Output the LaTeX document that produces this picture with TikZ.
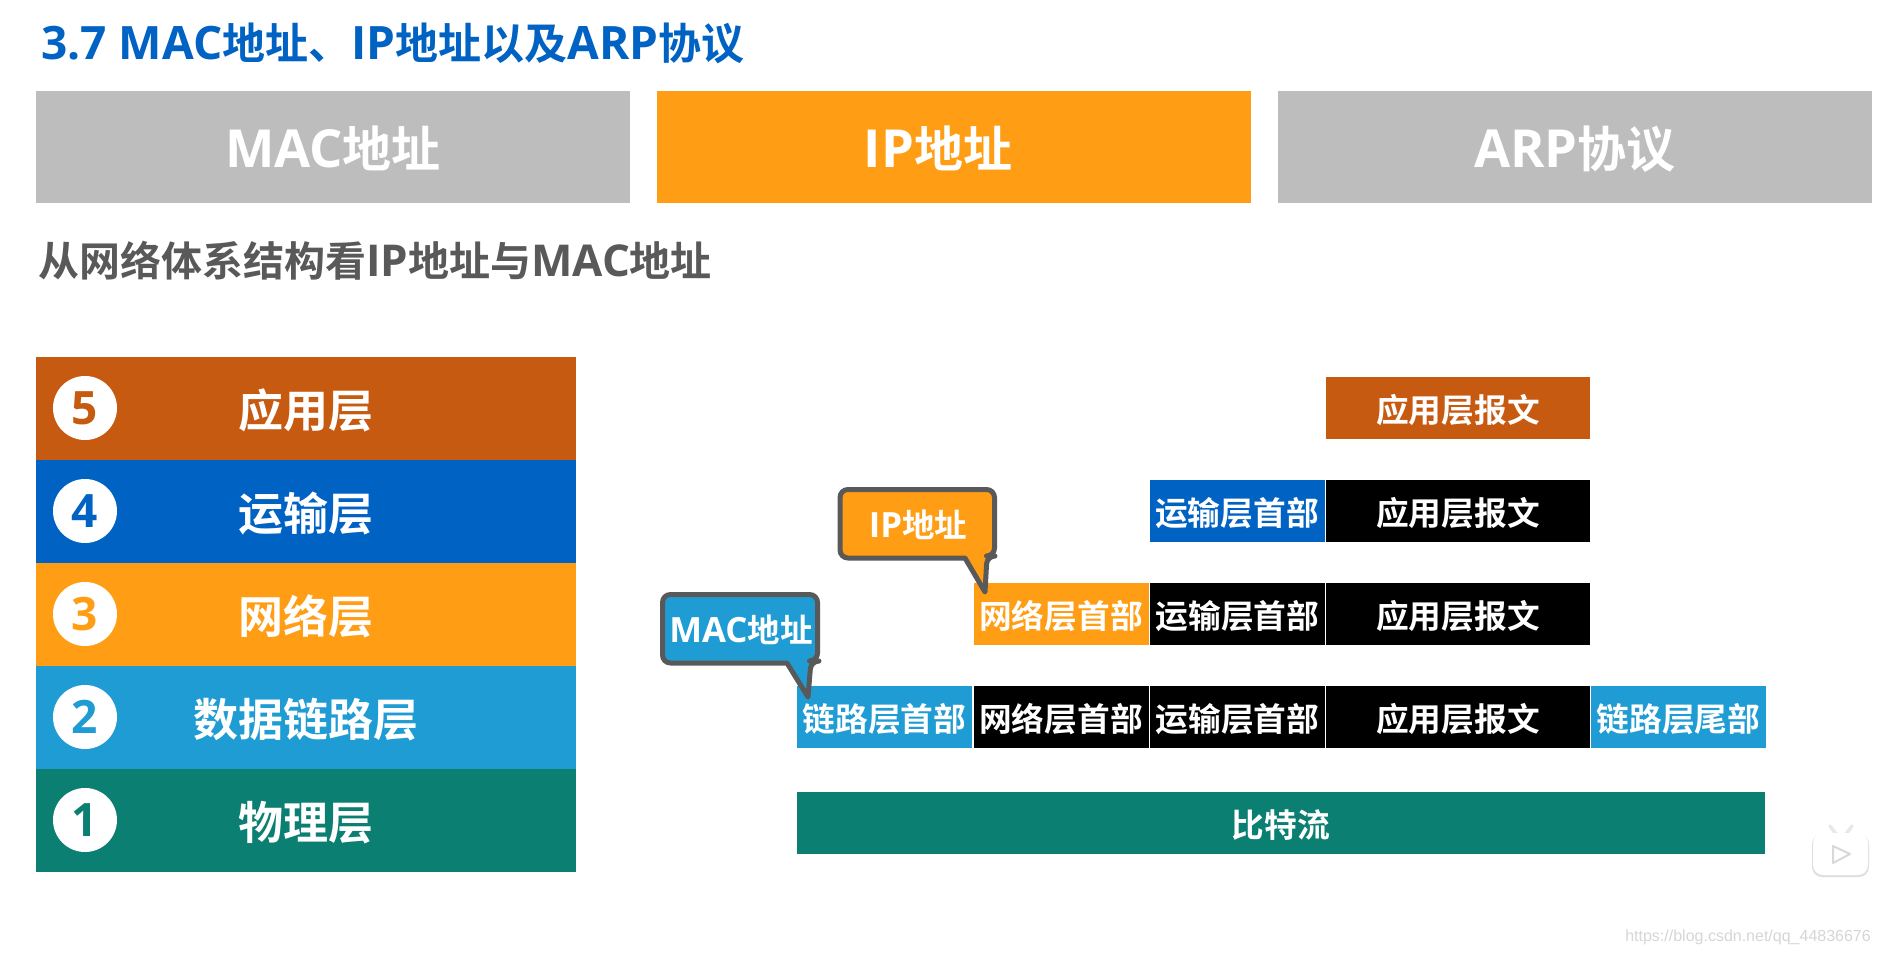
\documentclass[tikz,border=0pt]{standalone}
\usepackage{fontspec}
\usepackage{xcolor}
\setmainfont{Noto Sans CJK SC}[BoldFont={Noto Sans CJK SC Bold}]
\newfontfamily\latinfont{Open Sans}[BoldFont={Open Sans Bold},Scale=1.07]
\newfontfamily\markfont{Liberation Sans}
\newcommand{\lat}[1]{{\latinfont #1}}
\definecolor{layerfive}{HTML}{C75A11}
\definecolor{layerfour}{HTML}{0062C3}
\definecolor{layerthree}{HTML}{FF9E15}
\definecolor{layertwo}{HTML}{209CD4}
\definecolor{layerone}{HTML}{0A7F72}
\definecolor{tabgray}{HTML}{BDBDBD}
\definecolor{darkgray}{HTML}{595959}
\tikzset{
    tabbox/.style={minimum width=594pt, minimum height=112pt, inner sep=0pt, text=white, text height=46pt, text depth=6pt, font=\fontsize{49}{49}\selectfont\bfseries},
    layerbox/.style={minimum width=540pt, minimum height=103pt, inner sep=0pt, text=white, text height=44pt, text depth=6pt, font=\fontsize{45}{45}\selectfont\bfseries},
    numdot/.style={circle, fill=white, minimum size=64pt, inner sep=0pt, font=\fontsize{43}{43}\selectfont\bfseries\latinfont},
    cell/.style={minimum height=62pt, inner sep=0pt, text=white, text height=32pt, text depth=4pt, font=\fontsize{32.7}{33}\selectfont\bfseries},
    callout/.style={draw=darkgray, line width=5pt, line join=round},
    calloutlabel/.style={text=white, inner sep=0pt, font=\fontsize{32.5}{33}\selectfont\bfseries},
}

\begin{document}
\begin{tikzpicture}[x=1pt, y=-1pt]
    \path[use as bounding box, fill=white] (0,0) rectangle (1880,956);

    % Title
    \node[anchor=west, inner sep=0pt, text=layerfour, font=\fontsize{43}{44}\selectfont\bfseries] (title) at (41,43)
        {\lat{3.7 MAC}地址、\lat{IP}地址以及\lat{ARP}协议};

    % Tabs
    \node[tabbox, fill=tabgray] (tabmac) at (333,147) {\lat{MAC}地址};
    \node[tabbox, fill=layerthree] (tabip) at (954,147) {};
    \node[inner sep=0pt, text=white, text height=46pt, text depth=6pt, font=\fontsize{49}{49}\selectfont\bfseries] (tabiplabel) at (938,147) {\lat{IP}地址};
    \node[tabbox, fill=tabgray] (tabarp) at (1575,147) {\lat{ARP}协议};

    \node[anchor=west, inner sep=0pt, text=darkgray, font=\fontsize{41}{41}\selectfont\bfseries] (subtitle) at (38,261)
        {从网络体系结构看\lat{IP}地址与\lat{MAC}地址};

    % Layers
    \node[layerbox, fill=layerfive] (layerapp) at (306,408) {应用层};
    \node[layerbox, fill=layerfour] (layertrans) at (306,511) {运输层};
    \node[layerbox, fill=layerthree] (layernet) at (306,614) {网络层};
    \node[layerbox, fill=layertwo] (layerlink) at (306,717) {数据链路层};
    \node[layerbox, fill=layerone] (layerphy) at (306,820) {物理层};

    \node[numdot, text=layerfive] (numapp) at (85,408) {5};
    \node[numdot, text=layerfour] (numtrans) at (85,511) {4};
    \node[numdot, text=layerthree] (numnet) at (85,614) {3};
    \node[numdot, text=layertwo] (numlink) at (85,717) {2};
    \node[numdot, text=layerone] (numphy) at (85,820) {1};

    % Application row
    \node[cell, minimum width=264pt, fill=layerfive] (apprep) at (1458,408) {应用层报文};

    % Transport row
    \node[cell, minimum width=175pt, fill=layerfour] (transhead) at (1237,511) {运输层首部};
    \node[cell, minimum width=264pt, fill=black] (transrep) at (1458,511) {应用层报文};

    % Network row
    \node[cell, minimum width=175pt, fill=layerthree] (nethead) at (1061,614) {网络层首部};
    \node[cell, minimum width=175pt, fill=black] (nettrans) at (1237.5,614) {运输层首部};
    \node[cell, minimum width=264pt, fill=black] (netrep) at (1458,614) {应用层报文};

    % Link row
    \node[cell, minimum width=175pt, fill=layertwo] (linkhead) at (884.5,717) {链路层首部};
    \node[cell, minimum width=175pt, fill=black] (linknet) at (1061,717) {网络层首部};
    \node[cell, minimum width=175pt, fill=black] (linktrans) at (1237.5,717) {运输层首部};
    \node[cell, minimum width=264pt, fill=black] (linkrep) at (1458,717) {应用层报文};
    \node[cell, minimum width=175pt, fill=layertwo] (linktail) at (1678.5,717) {链路层尾部};

    % Bit stream
    \node[cell, minimum width=968pt, fill=layerone] (bits) at (1281,823) {比特流};

    % Callouts
    \draw[callout, fill=layerthree, rounded corners=8pt] (840,489.5) -- (994.5,489.5) -- (994.5,556)
        -- (987,556) [sharp corners] -- (985,592) -- (965,558) [rounded corners=8pt] -- (840,558) -- cycle;
    \node[calloutlabel] (ipnote) at (918,525) {\lat{IP}地址};

    \draw[callout, fill=layertwo, rounded corners=8pt] (662.5,594.5) -- (817.5,594.5) -- (817.5,661)
        -- (811,661) [sharp corners] -- (808,697) -- (787,663) [rounded corners=8pt] -- (662.5,663) -- cycle;
    \node[calloutlabel] (macnote) at (741,630) {\lat{MAC}地址};

    % Player icon
    \draw[line width=3.5pt, line cap=round, gray!18] (1830,826) -- (1836,834) (1852,826) -- (1846,834);
    \fill[gray!25, rounded corners=10pt] (1812,834) rectangle (1869,877);
    \fill[white, rounded corners=10pt] (1813,833) rectangle (1868,875);
    \draw[gray!30, line width=2pt, line join=round, fill=white] (1833,846) -- (1850,854) -- (1833,863) -- cycle;

    % Watermark
    \node[anchor=east, inner sep=0pt, text=gray!32, font=\fontsize{16}{16}\selectfont\markfont] (mark) at (1871,937)
        {https://blog.csdn.net/qq\_44836676};
\end{tikzpicture}
\end{document}
